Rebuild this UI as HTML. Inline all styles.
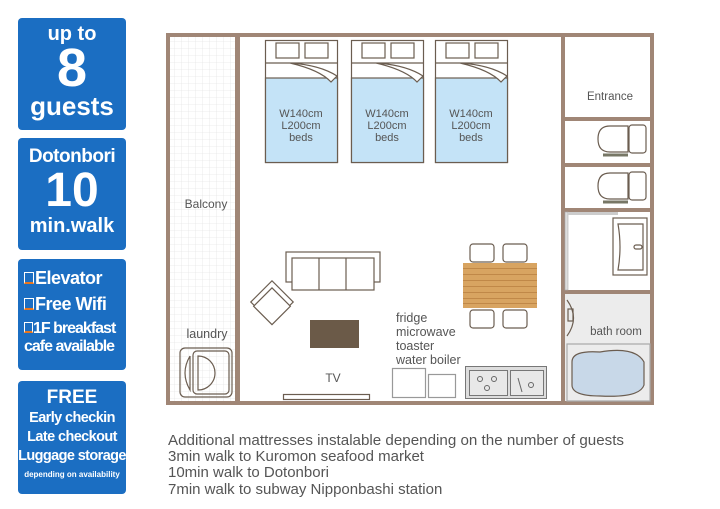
<!DOCTYPE html>
<html><head><meta charset="utf-8"><style>
html,body{margin:0;padding:0;background:#fff;width:720px;height:509px;overflow:hidden}
.b{position:absolute;left:18px;width:108px;background:#1b6ec2;border-radius:4px;color:#fff;font-family:"Liberation Sans",sans-serif;font-weight:bold;text-align:center}
</style></head><body>
<div class="b" style="top:18px;height:112px">
<div style="font-size:20px;margin-top:5px;line-height:22px">up to</div>
<div style="font-size:54px;line-height:46px">8</div>
<div style="font-size:26px;line-height:30px">guests</div></div>
<div class="b" style="top:138px;height:112px">
<div style="font-size:19px;margin-top:8px;line-height:22px;letter-spacing:-0.5px">Dotonbori</div>
<div style="font-size:48px;line-height:46px">10</div>
<div style="font-size:20px;line-height:24px">min.walk</div></div>
<div class="b" style="top:259px;height:111px;text-align:left;padding-left:6px;box-sizing:border-box">
<div style="font-size:18px;margin-top:7px;line-height:25px;letter-spacing:-0.5px"><span style="display:inline-block;width:8px;height:9px;border:1px solid #fff;border-bottom:2px solid #e8761e;margin-right:1px"></span>Elevator</div>
<div style="font-size:18px;line-height:26px;letter-spacing:-0.5px"><span style="display:inline-block;width:8px;height:9px;border:1px solid #fff;border-bottom:2px solid #e8761e;margin-right:1px"></span>Free Wifi</div>
<div style="font-size:16px;line-height:18px;letter-spacing:-1px;margin-top:3px"><span style="display:inline-block;width:7px;height:8px;border:1px solid #fff;border-bottom:2px solid #e8761e"></span>1F breakfast<br>cafe available</div></div>
<div class="b" style="top:381px;height:113px">
<div style="font-size:19px;margin-top:6px;line-height:22px">FREE</div>
<div style="font-size:14.5px;line-height:19px;letter-spacing:-0.6px">Early checkin<br>Late checkout<br>Luggage storage</div>
<div style="font-size:8px;line-height:14px;margin-top:2px">depending on availability</div></div>

<svg width="720" height="509" style="position:absolute;left:0;top:0" font-family="Liberation Sans,sans-serif">
<defs><pattern id="g" width="7" height="7" patternUnits="userSpaceOnUse"><path d="M7 0V7H0" fill="none" stroke="#e6e6e6" stroke-width="0.8"/></pattern></defs>
<rect x="170" y="35" width="67" height="367" fill="url(#g)"/>
<g fill="#a08676">
<rect x="166" y="33" width="488" height="4"/>
<rect x="166" y="33" width="4" height="372"/>
<rect x="166" y="401" width="488" height="4"/>
<rect x="235" y="33" width="5" height="372"/>
<rect x="561" y="33" width="4" height="372"/>
<rect x="650" y="33" width="4" height="372"/>
<rect x="561" y="117" width="93" height="4"/>
<rect x="561" y="163" width="93" height="4"/>
<rect x="561" y="208" width="93" height="4"/>
<rect x="561" y="290" width="93" height="4"/>
</g>
<rect x="565" y="212" width="3" height="78" fill="#ddd" stroke="#aaa" stroke-width="0.6"/>
<rect x="568" y="212" width="50" height="3" fill="#ccc"/>
<rect x="565" y="294" width="85" height="107" fill="#ececec"/>
<g fill="none" stroke="#6b5d50" stroke-width="1.2">
<g id="bed"><rect x="265.5" y="40.5" width="72" height="122" fill="#fff"/>
<rect x="265.5" y="78" width="72" height="84.5" fill="#c4e3f7"/>
<rect x="276" y="43" width="23" height="15" fill="#fff"/><rect x="305" y="43" width="23" height="15" fill="#fff"/>
<path d="M265.5 63H337.5M290 63Q320 65 337 76L331 82Q320 70 290 63" fill="#fff"/></g>
<use href="#bed" x="86"/><use href="#bed" x="170"/>
<rect x="286" y="252" width="94" height="30"/>
<rect x="292" y="258" width="82" height="32" fill="#fff"/>
<path d="M319 258V290M346 258V290"/>
<g transform="rotate(45 272 302)"><rect x="257" y="287" width="30" height="30" fill="#fff"/><rect x="262" y="292" width="26" height="26" fill="#fff"/></g>
<rect x="470" y="244" width="24" height="18" rx="3"/><rect x="503" y="244" width="24" height="18" rx="3"/>
<rect x="470" y="310" width="24" height="18" rx="3"/><rect x="503" y="310" width="24" height="18" rx="3"/>
<rect x="180" y="348" width="52" height="49" rx="5"/>
<rect x="193" y="351" width="36" height="43" rx="4"/>
<path d="M198 356A14 14 0 0 1 198 390Z"/>
<path d="M190 356Q180 373 190 390V356"/>
<rect x="283.5" y="394.5" width="86" height="5"/>
<rect x="392.5" y="368.5" width="33" height="29" stroke="#999"/>
<rect x="428.5" y="374.5" width="27" height="23" stroke="#999"/>
<g id="t"><path d="M628 126H610Q598 126 598 139Q598 152 610 152H628Z"/><rect x="629" y="125" width="17" height="28" rx="3"/><path d="M603 155H628" stroke-width="3" stroke="#776"/></g>
<use href="#t" y="47"/>
<rect x="613" y="218" width="34" height="57"/>
<path d="M618 224H643V270H618Q622 247 618 224Z"/>
<rect x="634" y="245" width="8" height="4" rx="2"/>
<path d="M567 300Q580 318 567 336"/><rect x="568" y="309" width="5" height="12"/>
<path d="M567 344H650V401H567Z" fill="#ececec" stroke="#aaa"/>
<path d="M572 362Q572 350 600 352Q635 346 644 362V385Q640 398 600 396Q572 396 572 385Z" fill="#c8d8e8"/>
</g>
<rect x="310" y="320" width="49" height="28" fill="#6b5a48"/>
<rect x="463" y="263" width="74" height="45" fill="#d8a461"/>
<g stroke="#c08848" stroke-width="1"><path d="M463 268.5H537M463 274.5H537M463 280.5H537M463 286.5H537M463 292.5H537M463 298.5H537M463 303.5H537"/></g>
<rect x="465.5" y="366.5" width="81" height="32" fill="#ddd" stroke="#777"/>
<rect x="469.5" y="370.5" width="38" height="25" fill="#e8e8e8" stroke="#777"/>
<rect x="510.5" y="370.5" width="33" height="25" fill="#e8e8e8" stroke="#777"/>
<g fill="none" stroke="#666"><circle cx="480" cy="379" r="2.5"/><circle cx="494" cy="379" r="2.5"/><circle cx="487" cy="388" r="2.5"/><circle cx="531" cy="385" r="2.5"/><path d="M518 378L522 392"/></g>
<g fill="#555" font-size="11" text-anchor="middle">
<g id="bt"><text x="301" y="117">W140cm</text><text x="301" y="129">L200cm</text><text x="301" y="141">beds</text></g>
<use href="#bt" x="86"/><use href="#bt" x="170"/>
<text x="206" y="208" font-size="12">Balcony</text>
<text x="207" y="338" font-size="12.5">laundry</text>
<text x="333" y="382" font-size="12">TV</text>
<text x="610" y="100" font-size="11.5">Entrance</text>
<text x="616" y="335" font-size="11.5">bath room</text>
</g>
<g fill="#555" font-size="12.5"><text x="396" y="322">fridge</text><text x="396" y="336">microwave</text><text x="396" y="350">toaster</text><text x="396" y="364">water boiler</text></g>
<g fill="#555" font-size="15"><text x="168" y="445" textLength="456" lengthAdjust="spacingAndGlyphs">Additional mattresses instalable depending on the number of guests</text>
<text x="168" y="461">3min walk to Kuromon seafood market</text>
<text x="168" y="477">10min walk to Dotonbori</text>
<text x="168" y="494">7min walk to subway Nipponbashi station</text></g>
</svg>
</body></html>
